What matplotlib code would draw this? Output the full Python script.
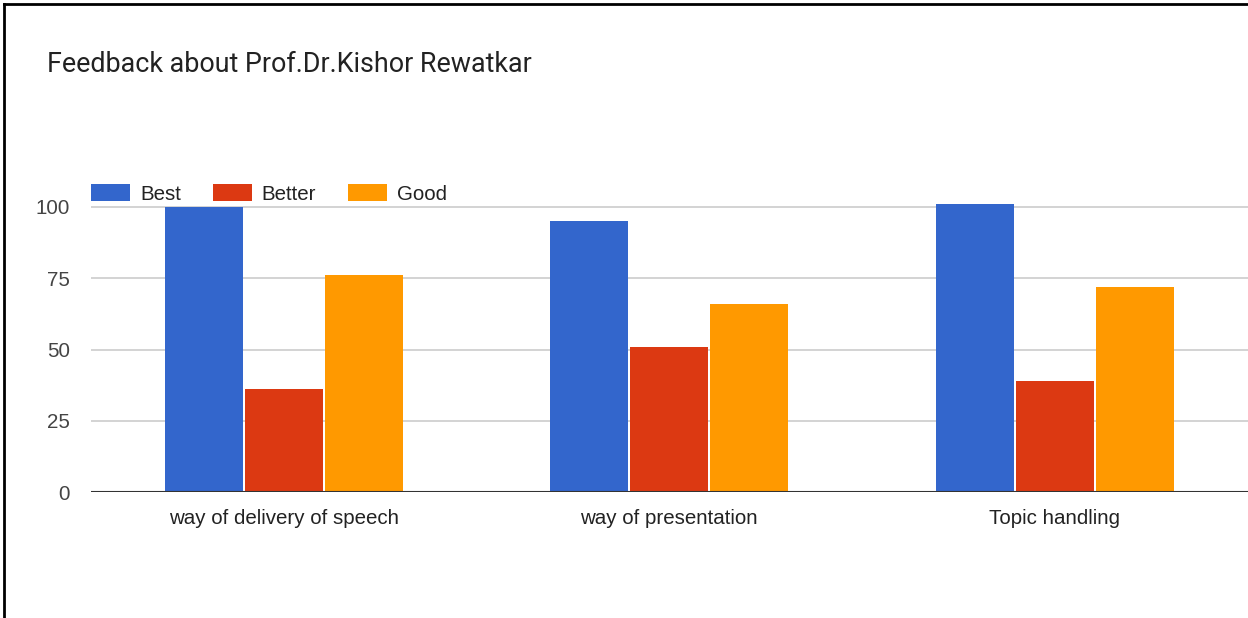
import matplotlib.pyplot as plt
import numpy as np
from matplotlib.lines import Line2D

# data
categories = ['way of delivery of speech', 'way of presentation', 'Topic handling']
series_names = ['Best', 'Better', 'Good']
best = [100, 95, 101]
better = [36, 51, 39]
good = [76, 66, 72]
y_ticks = [0, 25, 50, 75, 100]

colors = ['#3366CC', '#DC3912', '#FF9900']

fig = plt.figure(figsize=(12.48, 6.18), dpi=100)
ax = fig.add_axes([91 / 1248, 126 / 618, 1156.5 / 1248, 299.25 / 618])

x = np.arange(len(categories))
width = 0.2075
for i, (name, vals) in enumerate(zip(series_names, [best, better, good])):
    ax.bar(x + (i - 1) * width, vals, width - 0.005, color=colors[i], label=name, zorder=3)

ax.set_xlim(-0.5, len(categories) - 0.5)
ax.set_ylim(0, 105)
ax.set_yticks(y_ticks)
ax.set_xticks(x)
ax.set_xticklabels(categories, fontsize=14.8, color='#222222', family='Liberation Sans')
ax.set_yticklabels([str(t) for t in y_ticks], fontsize=14.8, color='#444444', family='Liberation Sans')
ax.tick_params(axis='both', length=0)
ax.tick_params(axis='y', pad=15)
ax.tick_params(axis='x', pad=12)

for s in ax.spines.values():
    s.set_visible(False)
ax.yaxis.grid(True, color='#CCCCCC', linewidth=1.2, zorder=0)
ax.axhline(0, color='#333333', linewidth=1.5, zorder=4)

fig.text(47 / 1248, 1 - 65 / 618, 'Feedback about Prof.Dr.Kishor Rewatkar',
         fontsize=19.4, family='Roboto', color='#222222', va='center', ha='left')

fig.legend(loc='center left', bbox_to_anchor=(91 / 1248, 1 - 194 / 618), ncol=3,
           frameon=False, prop={'family': 'Liberation Sans', 'size': 14.8},
           handlelength=1.9, handleheight=0.87, handletextpad=0.48,
           columnspacing=1.55, borderpad=0, borderaxespad=0, labelcolor='#222222')

# black frame on top and left of the screenshot
fig.add_artist(Line2D([4 / 1248, 4 / 1248], [0, 1 - 4 / 618], color='black', linewidth=2,
                      transform=fig.transFigure))
fig.add_artist(Line2D([4 / 1248, 1], [1 - 4 / 618, 1 - 4 / 618], color='black', linewidth=2,
                      transform=fig.transFigure))

fig.savefig('out.png', dpi=100)
